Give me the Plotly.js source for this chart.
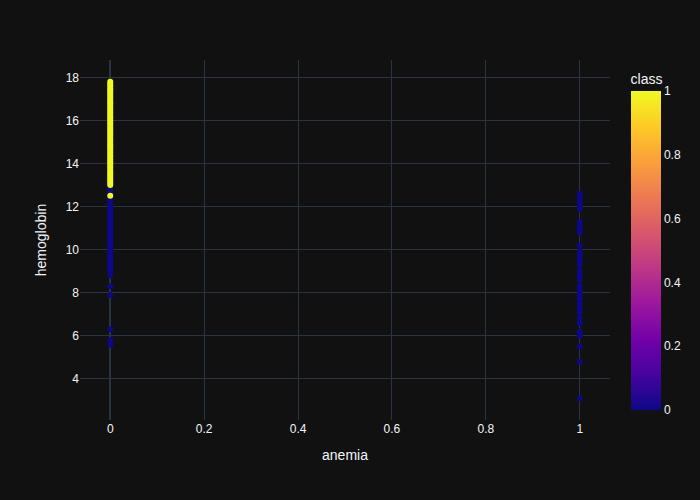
<!DOCTYPE html>
<html>
<head>
<meta charset="utf-8">
<script src="https://cdn.plot.ly/plotly-3.0.1.min.js"></script>
<style>html,body{margin:0;padding:0;background:#111111;}#chart{width:700px;height:500px;}</style>
</head>
<body>
<div id="chart"></div>
<script>
// hemoglobin values, grouped by (anemia, class)
const hemoNoAnemiaClass0 = [11.2, 9.5, 10.8, 12.1, 9.8, 11.6, 12.6, 10.3, 9.1, 11.9, 12.9, 10.1, 9.6, 11.4, 12.4, 10.5, 9.3, 12.0, 11.0, 10.9, 9.0, 12.7, 11.8, 10.0, 9.7, 12.2, 11.5, 10.6, 9.4, 12.5, 13.0, 11.1, 10.4, 9.9, 12.3, 11.7, 10.7, 9.2, 12.8, 11.3, 8.8, 8.3, 7.9, 6.3, 5.8, 5.6];
const hemoNoAnemiaClass1 = [15.0, 17.0, 15.9, 13.6, 14.1, 16.5, 13.2, 17.8, 14.8, 15.4, 16.2, 13.9, 17.4, 14.4, 15.7, 16.9, 13.0, 14.6, 15.2, 16.0, 17.2, 13.4, 14.0, 15.5, 16.7, 13.7, 17.6, 14.9, 15.8, 16.4, 13.1, 14.3, 15.1, 16.1, 17.1, 13.5, 14.7, 15.3, 16.6, 17.5, 13.8, 14.2, 15.6, 16.3, 17.7, 13.3, 14.5, 16.8, 17.3, 12.5];
const hemoAnemiaClass0 = [12.6, 12.4, 12.2, 12.0, 11.9, 11.3, 11.1, 10.9, 10.8, 10.2, 9.9, 9.7, 9.5, 9.3, 9.0, 8.8, 8.6, 8.3, 8.1, 7.9, 7.7, 7.5, 7.3, 7.1, 6.8, 6.6, 6.2, 6.0, 5.5, 4.8, 3.1];
const anemiaTicks = [0, 0.2, 0.4, 0.6, 0.8, 1];
const plasma = ["#0d0887","#46039f","#7201a8","#9c179e","#bd3786","#d8576b","#ed7953","#fb9f3a","#fdca26","#f0f921"];

const x = [], y = [], c = [];
hemoNoAnemiaClass0.forEach(v => { x.push(0); y.push(v); c.push(0); });
hemoAnemiaClass0.forEach(v => { x.push(1); y.push(v); c.push(0); });
hemoNoAnemiaClass1.forEach(v => { x.push(0); y.push(v); c.push(1); });

const colorscale = plasma.map((col, i) => [i / (plasma.length - 1), col]);

const trace = {
  type: 'scatter', mode: 'markers',
  x: x, y: y,
  marker: {color: c, coloraxis: 'coloraxis', size: 6, symbol: 'circle'},
  showlegend: false
};

const axisBase = {
  gridcolor: '#283442', showline: false, zerolinecolor: '#283442',
  zerolinewidth: 2, ticks: '', automargin: true, gridwidth: 1
};

const layout = {
  width: 700, height: 500,
  paper_bgcolor: 'rgb(17,17,17)', plot_bgcolor: 'rgb(17,17,17)',
  font: {color: '#f2f5fa', family: '"Liberation Sans", Arial, sans-serif', size: 12},
  margin: {t: 60, l: 80, r: 80, b: 80},
  xaxis: Object.assign({}, axisBase, {title: {text: 'anemia', standoff: 15}, tickvals: anemiaTicks}),
  yaxis: Object.assign({}, axisBase, {title: {text: 'hemoglobin', standoff: 15}}),
  coloraxis: {
    colorscale: colorscale, cmin: 0, cmax: 1,
    colorbar: {title: {text: 'class'}, outlinewidth: 0, ticks: ''}
  }
};

Plotly.newPlot('chart', [trace], layout, {displayModeBar: false});
</script>
</body>
</html>
